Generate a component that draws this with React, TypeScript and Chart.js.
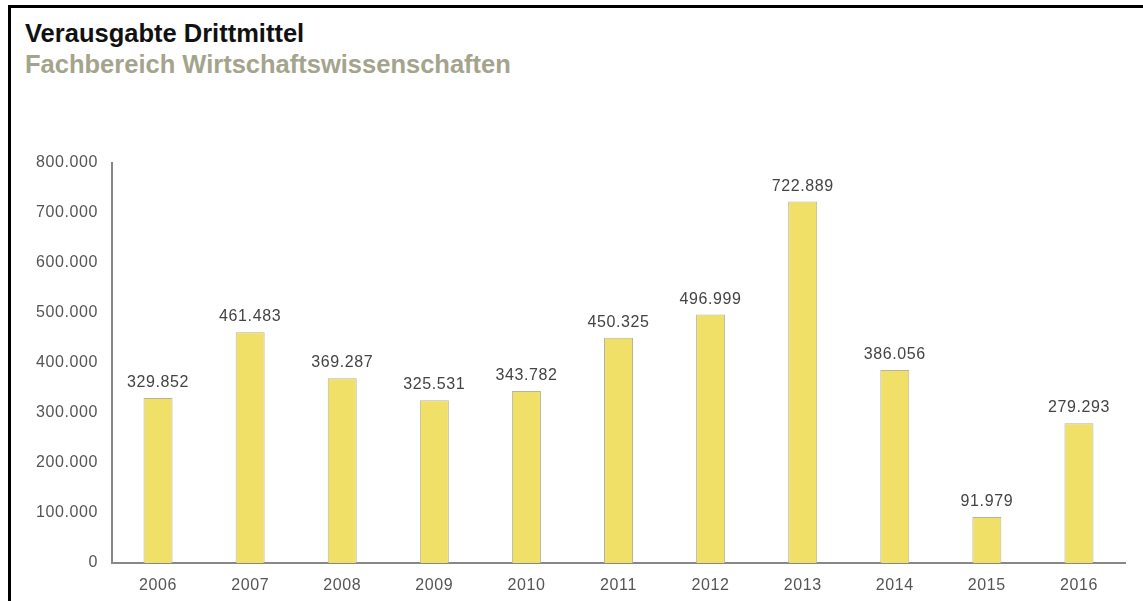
import React, { useEffect, useRef } from "react";
import { Chart, registerables } from "chart.js";

Chart.register(...registerables);

const years = ["2006", "2007", "2008", "2009", "2010", "2011", "2012", "2013", "2014", "2015", "2016"];
const spending = [329852, 461483, 369287, 325531, 343782, 450325, 496999, 722889, 386056, 91979, 279293];
const yTicks = [0, 100000, 200000, 300000, 400000, 500000, 600000, 700000, 800000];

const fmt = (v: number) =>
  v === 0 ? "0" : Math.round(v).toString().replace(/\B(?=(\d{3})+(?!\d))/g, ".");

const FONT = "'Liberation Sans', Arial, Helvetica, sans-serif";

// Slightly wider letter spacing for all canvas text.
const spacing = {
  id: "spacing",
  beforeLayout(chart: any) {
    chart.ctx.letterSpacing = "0.6px";
  },
  beforeDraw(chart: any) {
    chart.ctx.letterSpacing = "0.6px";
  },
};

// Writes each bar's value centred above it.
const valueLabels = {
  id: "valueLabels",
  afterDatasetsDraw(chart: any) {
    const { ctx } = chart;
    const meta = chart.getDatasetMeta(0);
    ctx.save();
    ctx.letterSpacing = "0.6px";
    ctx.font = `16px ${FONT}`;
    ctx.fillStyle = "#444444";
    ctx.textAlign = "center";
    ctx.textBaseline = "alphabetic";
    meta.data.forEach((bar: any, i: number) => {
      ctx.fillText(fmt(spending[i]), bar.x, bar.y - 11);
    });
    ctx.restore();
  },
};

export default function App() {
  const canvasRef = useRef<HTMLCanvasElement>(null);

  useEffect(() => {
    if (!canvasRef.current) return;
    const chart = new Chart(canvasRef.current, {
      type: "bar",
      data: {
        labels: years,
        datasets: [
          {
            data: spending,
            backgroundColor: "#f0e068",
            borderColor: "#b8b49c",
            borderWidth: 1,
            barPercentage: 0.315,
            categoryPercentage: 1,
          },
        ],
      },
      options: {
        animation: false,
        responsive: false,
        maintainAspectRatio: false,
        layout: { padding: { top: 163, right: 18, left: 0, bottom: 0 } },
        plugins: { legend: { display: false }, tooltip: { enabled: false } },
        scales: {
          x: {
            grid: { display: false, drawTicks: false },
            border: { display: true, color: "#888888", width: 2 },
            ticks: { color: "#555555", font: { family: FONT, size: 16 }, padding: 13 },
            afterFit(scale: any) {
              scale.height = 38;
            },
          },
          y: {
            min: 0,
            max: 800000,
            grid: { display: false, drawTicks: false },
            border: { display: true, color: "#888888", width: 2 },
            afterBuildTicks(scale: any) {
              scale.ticks = yTicks.map((v) => ({ value: v }));
            },
            ticks: {
              color: "#555555",
              font: { family: FONT, size: 16 },
              padding: 14,
              callback: (v: any) => fmt(Number(v)),
            },
            afterFit(scale: any) {
              scale.width = 112;
            },
          },
        },
      },
      plugins: [spacing, valueLabels],
    });
    return () => chart.destroy();
  }, []);

  return (
    <div style={{ position: "fixed", left: 0, top: 0, width: 1143, height: 601, background: "#fff", overflow: "hidden" }}>
      <div
        style={{
          position: "absolute",
          left: 8,
          top: 5,
          right: -10,
          bottom: -10,
          borderTop: "3px solid #000",
          borderLeft: "3px solid #000",
        }}
      />
      <div
        style={{
          position: "absolute",
          left: 25,
          top: 21,
          font: `bold 25.5px/25.5px ${FONT}`,
          color: "#111111",
          whiteSpace: "nowrap",
        }}
      >
        Verausgabte Drittmittel
      </div>
      <div
        style={{
          position: "absolute",
          left: 25,
          top: 52,
          font: `bold 25.5px/25.5px ${FONT}`,
          color: "#a4a48c",
          whiteSpace: "nowrap",
        }}
      >
        Fachbereich Wirtschaftswissenschaften
      </div>
      <canvas
        ref={canvasRef}
        width={1143}
        height={601}
        style={{ position: "absolute", left: 0, top: 0, width: 1143, height: 601 }}
      />
    </div>
  );
}
